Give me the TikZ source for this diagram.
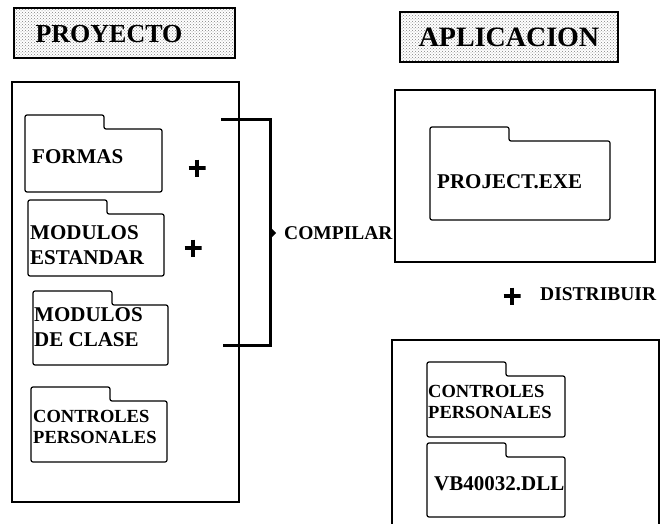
\documentclass[tikz,border=0pt]{standalone}
\usepackage{fontspec}
\setmainfont{Liberation Serif}
\usetikzlibrary{positioning,arrows.meta,patterns}

\tikzset{
  mainbox/.style={line width=1.2pt},
  folder/.style={line width=1.2pt, rounded corners=2pt},
  titlebox/.style={line width=1.4pt, pattern=crosshatch dots, pattern color=gray},
  titletext/.style={font=\bfseries\fontsize{28}{28}\selectfont, inner sep=0pt},
  foldertext/.style={font=\bfseries\fontsize{21}{25}\selectfont, align=left, inner sep=0pt, anchor=west},
  smalltext/.style={foldertext, font=\bfseries\fontsize{18.5}{21}\selectfont},
  steptext/.style={font=\bfseries\fontsize{19.5}{20}\selectfont, inner sep=0pt, anchor=west},
  plusmark/.style={minimum size=17pt, inner sep=0pt,
    path picture={\draw[line width=4pt] (path picture bounding box.north) -- (path picture bounding box.south)
      (path picture bounding box.west) -- (path picture bounding box.east);}},
  bracket/.style={line width=3pt}
}

% folder: left, top, right, bottom
\newcommand{\folderpath}[4]{%
  \draw[folder] (#1,#4) -- (#1,#2) -- (#1+79,#2) -- (#1+79,#2+14) -- (#3,#2+14) -- (#3,#4) -- cycle;}

\begin{document}
\begin{tikzpicture}[x=1pt, y=-1pt]
  \useasboundingbox (0,0) rectangle (661,524);

  % titles
  \draw[titlebox] (14,8) rectangle (235,58);
  \node[titletext, font=\bfseries\fontsize{26}{26}\selectfont] (proyecto) at (109,34) {PROYECTO};
  \draw[titlebox] (400,12) rectangle (618,62);
  \node[titletext] (aplicacion) at (509,37) {APLICACION};

  % proyecto
  \draw[mainbox] (12,82) rectangle (239,502);
  \folderpath{25}{115}{162}{192}
  \node[foldertext] (formas) at (32,157) {FORMAS};
  \folderpath{28}{200}{164}{276}
  \node[foldertext] (estandar) at (30,245) {MODULOS\\ESTANDAR};
  \folderpath{33}{291}{168}{365}
  \node[foldertext] (clase) at (34,327) {MODULOS\\DE CLASE};
  \folderpath{31}{387}{167}{462}
  \node[smalltext] (controlesA) at (33,427) {CONTROLES\\PERSONALES};

  \node[plusmark] (plusA) at (197,168) {};
  \node[plusmark] (plusB) at (193,248) {};

  % compilar
  \coordinate (brkA) at (221,120);
  \coordinate (brkB) at (270,120);
  \coordinate (brkC) at (270,345);
  \coordinate (brkD) at (223,345);
  \coordinate (brkM) at (270,233);
  \draw[bracket] (brkA) -- (brkB) -- (brkC) -- (brkD);
  \fill (brkM) ++(0,-6) -- ++(6,6) -- ++(-6,6) -- cycle;
  \node[steptext] (compilar) at (284,233) {COMPILAR};

  % aplicacion
  \draw[mainbox] (395,90) rectangle (655,262);
  \folderpath{430}{127}{610}{220}
  \node[foldertext] (exe) at (437,182) {PROJECT.EXE};

  \node[plusmark] (plusC) at (512,296) {};
  \node[steptext] (distribuir) at (540,294) {DISTRIBUIR};

  \draw[mainbox] (392,530) -- (392,340) -- (659,340) -- (659,530);
  \folderpath{427}{362}{565}{437}
  \node[smalltext] (controlesB) at (428,402) {CONTROLES\\PERSONALES};
  \folderpath{427}{443}{565}{517}
  \node[foldertext] (dll) at (434,484) {VB40032.DLL};
\end{tikzpicture}
\end{document}
